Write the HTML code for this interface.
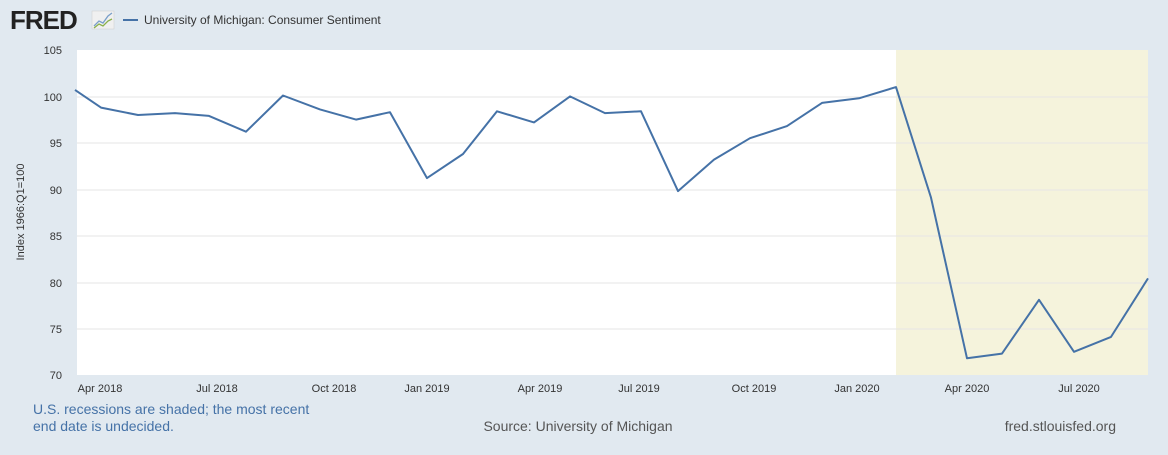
<!DOCTYPE html>
<html><head><meta charset="utf-8"><style>
body{margin:0;width:1168px;height:450px;background:#e1e9f0;font-family:"Liberation Sans",Arial,sans-serif;overflow:hidden}
</style></head><body>
<svg width="1168" height="450" xmlns="http://www.w3.org/2000/svg" font-family="Liberation Sans, Arial, sans-serif">
<rect width="1168" height="450" fill="#e1e9f0"/>
<text x="10" y="29" font-size="26" font-weight="bold" fill="#222" letter-spacing="-1">FRED</text>
<rect x="92" y="11" width="22" height="18" fill="#f0f0f0" stroke="#ccc" stroke-width="0.5"/>
<polyline points="94,26 99,21 103,23 108,16 112,13" fill="none" stroke="#7a9fc9" stroke-width="1.3"/>
<polyline points="94,28 99,24 103,26 108,21 112,19" fill="none" stroke="#8ab04a" stroke-width="1.3"/>
<line x1="123" y1="20" x2="138" y2="20" stroke="#4572a7" stroke-width="2"/>
<text x="144" y="24" font-size="12" fill="#333">University of Michigan: Consumer Sentiment</text>
<rect x="77" y="50" width="1071" height="325" fill="#fff"/>
<rect x="896" y="50" width="252" height="325" fill="#f5f3dc"/>
<g stroke="#e6e6e6" stroke-width="1">
<line x1="77" y1="97" x2="1148" y2="97"/><line x1="77" y1="143" x2="1148" y2="143"/>
<line x1="77" y1="190" x2="1148" y2="190"/><line x1="77" y1="236" x2="1148" y2="236"/>
<line x1="77" y1="283" x2="1148" y2="283"/><line x1="77" y1="329" x2="1148" y2="329"/>
</g>
<g font-size="11" fill="#333" text-anchor="end">
<text x="62" y="54">105</text><text x="62" y="101">100</text><text x="62" y="147">95</text>
<text x="62" y="194">90</text><text x="62" y="240">85</text><text x="62" y="287">80</text>
<text x="62" y="333">75</text><text x="62" y="379">70</text>
</g>
<text transform="translate(24,212) rotate(-90)" font-size="11" fill="#333" text-anchor="middle">Index 1966:Q1=100</text>
<g font-size="11" fill="#333" text-anchor="middle">
<text x="100" y="392">Apr 2018</text><text x="217" y="392">Jul 2018</text><text x="334" y="392">Oct 2018</text>
<text x="427" y="392">Jan 2019</text><text x="540" y="392">Apr 2019</text><text x="639" y="392">Jul 2019</text>
<text x="754" y="392">Oct 2019</text><text x="857" y="392">Jan 2020</text><text x="967" y="392">Apr 2020</text>
<text x="1079" y="392">Jul 2020</text>
</g>
<polyline fill="none" stroke="#4572a7" stroke-width="2" stroke-linejoin="round" points="75,89.9 101,107.6 138,115 175,113.1 209,115.9 246,131.7 283,95.5 320,109.4 356,119.6 390,112.2 427,178.1 463,154 497,111.3 534,122.4 570,96.4 605,113.1 641,111.3 678,191.1 714,159.6 750,138.2 787,126.1 822,102.9 859,98.3 896,87.1 931,197.6 967,358.3 1002,353.6 1039,299.8 1074,351.8 1111,336.9 1148,278.4"/>
<g font-size="14" fill="#4572a7">
<text x="33" y="414">U.S. recessions are shaded; the most recent</text>
<text x="33" y="431">end date is undecided.</text>
</g>
<text x="578" y="431" font-size="14" fill="#555" text-anchor="middle">Source: University of Michigan</text>
<text x="1116" y="431" font-size="14" fill="#555" text-anchor="end">fred.stlouisfed.org</text>
</svg>
</body></html>
